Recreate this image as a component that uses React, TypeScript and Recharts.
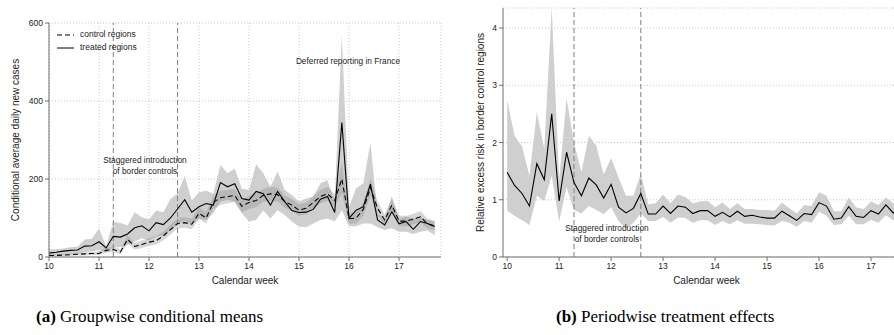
import React from 'react';
import {
  ComposedChart, Line, Area, XAxis, YAxis, CartesianGrid,
  ReferenceLine, ReferenceDot, Legend, Label,
} from 'recharts';

// Calendar week (daily observations)
const weeks = [
  10.0, 10.143, 10.286, 10.429, 10.571, 10.714, 10.857,
  11.0, 11.143, 11.286, 11.429, 11.571, 11.714, 11.857,
  12.0, 12.143, 12.286, 12.429, 12.571, 12.714, 12.857,
  13.0, 13.143, 13.286, 13.429, 13.571, 13.714, 13.857,
  14.0, 14.143, 14.286, 14.429, 14.571, 14.714, 14.857,
  15.0, 15.143, 15.286, 15.429, 15.571, 15.714, 15.857,
  16.0, 16.143, 16.286, 16.429, 16.571, 16.714, 16.857,
  17.0, 17.143, 17.286, 17.429, 17.571, 17.714,
];

// Panel (a): conditional average daily new cases
const treated = [
  10, 12, 15, 17, 18, 28, 29, 39, 23, 53, 51, 59, 75, 80, 67, 88, 83, 100, 123, 147,
  115, 129, 137, 133, 191, 180, 188, 150, 146, 168, 162, 133, 168, 142, 119, 114, 115, 122, 148, 155,
  114, 345, 99, 120, 129, 187, 95, 82, 116, 85, 91, 71, 91, 86, 78,
];
const treatedHigh = [
  19, 20, 22, 25, 26, 45, 47, 73, 28, 90, 87, 81, 115, 102, 96, 119, 115, 149, 163, 208,
  145, 166, 170, 162, 236, 215, 227, 175, 172, 238, 215, 180, 219, 172, 159, 142, 150, 155, 189, 197,
  142, 570, 129, 176, 189, 292, 112, 99, 155, 99, 103, 99, 103, 95, 91,
];
const treatedLow = [
  4, 5, 6, 8, 9, 13, 14, 18, 12, 25, 25, 32, 40, 48, 42, 52, 56, 68, 85, 92,
  84, 98, 95, 112, 142, 146, 142, 112, 91, 95, 120, 99, 120, 108, 91, 78, 76, 86, 95, 99,
  91, 120, 79, 79, 86, 86, 76, 69, 74, 65, 65, 59, 65, 68, 56,
];
const control = [
  4, 4, 5, 6, 7, 8, 9, 9, 17, 19, 13, 45, 27, 32, 38, 42, 54, 70, 86, 88,
  84, 112, 100, 140, 152, 155, 158, 130, 140, 145, 158, 162, 160, 142, 133, 120, 125, 140, 155, 162,
  145, 200, 98, 100, 122, 178, 125, 95, 133, 92, 92, 97, 103, 85, 80,
];
const controlHigh = [
  7, 7, 8, 9, 11, 12, 13, 14, 24, 27, 20, 56, 36, 42, 48, 53, 65, 83, 100, 102,
  98, 127, 115, 157, 170, 172, 175, 146, 157, 162, 175, 180, 178, 158, 149, 135, 140, 156, 172, 180,
  161, 240, 112, 115, 138, 200, 142, 109, 150, 106, 106, 111, 118, 98, 93,
];
const controlLow = [
  1, 1, 2, 3, 4, 4, 5, 5, 11, 12, 7, 35, 19, 23, 29, 32, 43, 58, 73, 75,
  71, 98, 86, 124, 134, 138, 141, 114, 123, 128, 141, 144, 142, 126, 118, 106, 110, 124, 138, 144,
  129, 165, 85, 86, 106, 158, 108, 82, 116, 79, 79, 84, 89, 73, 68,
];

// Panel (b): relative excess risk
const effect = [
  1.48, 1.25, 1.11, 0.89, 1.63, 1.35, 2.50, 0.98, 1.83, 1.30, 1.07, 1.38, 1.26, 1.03, 1.27, 0.87, 0.77, 0.85, 1.11, 0.75,
  0.75, 0.89, 0.76, 0.89, 0.87, 0.76, 0.81, 0.81, 0.71, 0.78, 0.70, 0.80, 0.71, 0.73, 0.70, 0.68, 0.68, 0.80, 0.72, 0.64,
  0.76, 0.74, 0.95, 0.89, 0.66, 0.68, 0.88, 0.71, 0.69, 0.81, 0.75, 0.91, 0.77, 0.85, 0.79,
];
const effectHigh = [
  2.74, 2.12, 1.93, 1.42, 2.53, 1.89, 4.35, 1.35, 2.77, 2.00, 1.48, 2.12, 1.95, 1.44, 1.73, 1.39, 1.07, 1.07, 1.45, 0.92,
  0.94, 1.09, 0.94, 1.09, 1.05, 0.94, 0.97, 0.98, 0.87, 0.95, 0.84, 0.94, 0.84, 0.84, 0.82, 0.82, 0.81, 0.95, 0.85, 0.76,
  0.91, 0.89, 1.13, 1.07, 0.80, 0.80, 1.04, 0.87, 0.84, 0.97, 0.91, 1.04, 0.94, 1.00, 0.95,
];
const effectLow = [
  0.81, 0.72, 0.64, 0.56, 1.07, 0.98, 1.42, 0.62, 1.22, 0.82, 0.76, 0.89, 0.82, 0.75, 0.87, 0.63, 0.49, 0.60, 0.76, 0.63,
  0.63, 0.70, 0.60, 0.69, 0.68, 0.60, 0.64, 0.64, 0.56, 0.63, 0.57, 0.64, 0.58, 0.58, 0.57, 0.56, 0.55, 0.63, 0.60, 0.53,
  0.63, 0.60, 0.79, 0.72, 0.56, 0.57, 0.72, 0.57, 0.57, 0.65, 0.60, 0.73, 0.64, 0.68, 0.62,
];

const weekTicks = [10, 11, 12, 13, 14, 15, 16, 17];
const casesTicks = [0, 200, 400, 600];
const riskTicks = [0, 1, 2, 3, 4];
const borderControlWeeks = [11.286, 12.571];

const leftData = weeks.map((w, i) => ({
  week: w,
  treated: treated[i],
  control: control[i],
  tBand: [treatedLow[i], treatedHigh[i]],
  cBand: [controlLow[i], controlHigh[i]],
}));
const rightData = weeks.map((w, i) => ({
  week: w,
  effect: effect[i],
  band: [effectLow[i], effectHigh[i]],
}));

const FONT = '"Liberation Sans", Arial, Helvetica, sans-serif';
const AXIS = '#6f6f6f';
const TXT = '#222';
const tickStyle = { fontSize: 8.5, fill: TXT, fontFamily: FONT };

const yTitle = (text: string, dx: number) => (props: any) => {
  const vb = props.viewBox || {};
  const x = vb.x + dx;
  const y = vb.y + vb.height / 2;
  return (
    <text x={x} y={y} transform={`rotate(-90 ${x} ${y})`} textAnchor="middle"
      dominantBaseline="central" fontSize={10} fontFamily={FONT} fill={TXT}>{text}</text>
  );
};
const xTitle = (text: string, dy: number) => (props: any) => {
  const vb = props.viewBox || {};
  const x = vb.x + vb.width / 2;
  const y = vb.y + dy;
  return (
    <text x={x} y={y} textAnchor="middle" dominantBaseline="central"
      fontSize={10} fontFamily={FONT} fill={TXT}>{text}</text>
  );
};
const note = (lines: string[]) => (props: any) => {
  const vb = props.viewBox || {};
  const x = vb.x + (vb.width || 0) / 2;
  const y = vb.y + (vb.height || 0) / 2;
  return (
    <text x={x} y={y} textAnchor="middle" fontSize={8.3} fontFamily={FONT} fill={TXT}>
      {lines.map((l, i) => (
        <tspan key={i} x={x} dy={i === 0 ? 0 : 11}>{l}</tspan>
      ))}
    </text>
  );
};

const legendContent = () => (
  <div style={{ fontFamily: FONT, fontSize: 8.5, color: TXT, lineHeight: '13px' }}>
    <div style={{ display: 'flex', alignItems: 'center' }}>
      <svg width={17} height={4}><line x1={0} y1={2} x2={17} y2={2} stroke="#000" strokeWidth={1} strokeDasharray="5 3" /></svg>
      <span style={{ marginLeft: 6 }}>control regions</span>
    </div>
    <div style={{ display: 'flex', alignItems: 'center' }}>
      <svg width={17} height={4}><line x1={0} y1={2} x2={17} y2={2} stroke="#000" strokeWidth={1} /></svg>
      <span style={{ marginLeft: 6 }}>treated regions</span>
    </div>
  </div>
);

function LeftChart() {
  return (
    <ComposedChart width={450} height={290} data={leftData}
      margin={{ top: 23, right: 9, bottom: 0, left: 0 }}>
      <CartesianGrid stroke="#c8c8c8" strokeDasharray="1 2" />
      <XAxis type="number" dataKey="week" domain={[10, 17.84]} ticks={weekTicks}
        stroke={AXIS} tickSize={4} tickMargin={2} tick={tickStyle} height={33} interval={0}>
        <Label content={xTitle('Calendar week', 23)} />
      </XAxis>
      <YAxis type="number" domain={[0, 600]} ticks={casesTicks} width={49}
        stroke={AXIS} tickSize={4} tickMargin={2} tick={tickStyle} interval={0}>
        <Label content={yTitle('Conditional average daily new cases', 15)} />
      </YAxis>
      <Area type="linear" dataKey="tBand" stroke="none" fill="#cfcfcf" fillOpacity={1}
        isAnimationActive={false} dot={false} activeDot={false} />
      <Area type="linear" dataKey="cBand" stroke="none" fill="#8a8a8a" fillOpacity={0.35}
        isAnimationActive={false} dot={false} activeDot={false} />
      {borderControlWeeks.map((w) => (
        <ReferenceLine key={w} x={w} stroke="#808080" strokeWidth={1} strokeDasharray="5 3" />
      ))}
      <Line type="linear" dataKey="control" stroke="#000" strokeWidth={1.1} strokeDasharray="5 3"
        dot={false} activeDot={false} isAnimationActive={false} />
      <Line type="linear" dataKey="treated" stroke="#000" strokeWidth={1.1}
        dot={false} activeDot={false} isAnimationActive={false} />
      <ReferenceDot x={11.92} y={240} r={0} fill="none" stroke="none"
        label={{ content: note(['Staggered introduction', 'of border controls']) }} />
      <ReferenceDot x={15.98} y={494} r={0} fill="none" stroke="none"
        label={{ content: note(['Deferred reporting in France']) }} />
      <Legend layout="vertical" align="center" verticalAlign="middle" content={legendContent}
        wrapperStyle={{ position: 'absolute', left: 57, top: 28, width: 120, height: 28 }} />
    </ComposedChart>
  );
}

function RightChart() {
  return (
    <ComposedChart width={465} height={290} data={rightData}
      margin={{ top: 8, right: 5, bottom: 0, left: 0 }}>
      <CartesianGrid stroke="#c8c8c8" strokeDasharray="1 2" vertical={false} />
      <XAxis type="number" dataKey="week" domain={[9.92, 17.75]} ticks={weekTicks}
        stroke={AXIS} tickSize={4} tickMargin={2} tick={tickStyle} height={33} interval={0}>
        <Label content={xTitle('Calendar week', 23)} />
      </XAxis>
      <YAxis type="number" domain={[0, 4.35]} ticks={riskTicks} width={53}
        stroke={AXIS} tickSize={4} tickMargin={2} tick={tickStyle} interval={0}>
        <Label content={yTitle('Relative excess risk in border control regions', 30)} />
      </YAxis>
      <Area type="linear" dataKey="band" stroke="none" fill="#cfcfcf" fillOpacity={1}
        isAnimationActive={false} dot={false} activeDot={false} />
      {borderControlWeeks.map((w) => (
        <ReferenceLine key={w} x={w} stroke="#808080" strokeWidth={1} strokeDasharray="5 3" />
      ))}
      <Line type="linear" dataKey="effect" stroke="#000" strokeWidth={1.1}
        dot={false} activeDot={false} isAnimationActive={false} />
      <ReferenceDot x={11.92} y={0.46} r={0} fill="none" stroke="none"
        label={{ content: note(['Staggered introduction', 'of border controls']) }} />
    </ComposedChart>
  );
}

export default function App() {
  const cap: React.CSSProperties = {
    position: 'absolute', top: 308, fontFamily: '"Liberation Serif", "DejaVu Serif", serif',
    fontSize: 17, lineHeight: '17px', color: '#000', whiteSpace: 'nowrap',
  };
  return (
    <div style={{ position: 'absolute', left: 0, top: 0, width: 894, height: 335, overflow: 'hidden', background: '#fff' }}>
      <div style={{ position: 'absolute', left: 0, top: 0 }}>
        <LeftChart />
      </div>
      <div style={{ position: 'absolute', left: 450, top: 0 }}>
        <RightChart />
      </div>
      <div style={{ ...cap, left: 36 }}><b>(a)</b> Groupwise conditional means</div>
      <div style={{ ...cap, left: 556 }}><b>(b)</b> Periodwise treatment effects</div>
    </div>
  );
}
